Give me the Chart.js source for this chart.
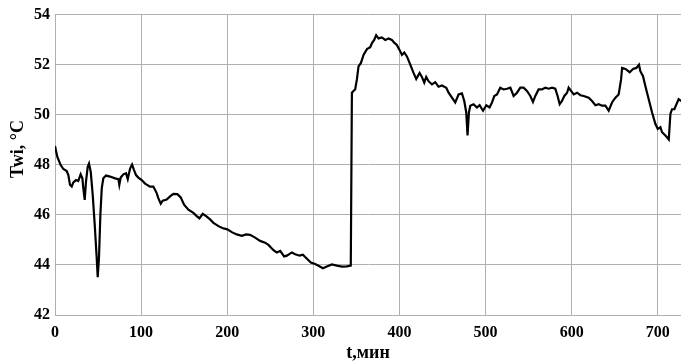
<!DOCTYPE html>
<html>
<head>
<meta charset="utf-8">
<script src="https://cdn.jsdelivr.net/npm/chart.js@4/dist/chart.umd.min.js"></script>
<style>
html,body{margin:0;padding:0;background:#fff;}
#wrap{width:681px;height:364px;position:relative;}
</style>
</head>
<body>
<div id="wrap"><canvas id="c"></canvas></div>
<script>
const tValues = [0,2.7,6.6,9.7,13.6,15.5,17.4,19.4,21.3,24.4,27,29.8,31.8,32.9,34.5,36,38,39.5,41.5,43.8,46.1,48.4,49.6,51.1,52.7,54.3,56.1,59.3,63.9,69.7,73.6,74.7,76.3,79.4,82.5,84.5,87.2,89.5,91.8,94.1,96.8,100.7,104.6,110.4,114.2,118.1,120,122.8,125.1,129.7,133.6,137.5,142.1,146,149.9,154.9,160.7,164.6,167.7,171.6,175.5,180.1,184,189.8,195.6,200.2,205.3,211.1,216.9,222,226.6,232.4,238.2,244,247.9,253.7,257.6,261.5,266.1,269.3,275.1,279,284,287.9,291.7,297.1,302.1,306,311.1,315.7,321.5,327.4,333.2,339,343.5,344.8,346.6,348.6,350.6,352.5,355.3,358.3,362.3,366.1,368.1,370.7,373,375.7,379.6,383.5,387.4,391.2,393.9,397,400.1,402.9,405.6,408.7,412.6,416.4,419.5,423.4,426.1,428.8,431.1,433.8,437.8,441.6,445.4,449.4,454.4,457.1,461,464.8,468.7,472.6,475.3,477.6,479.1,480.7,482.3,486.1,490,493.1,497.1,500.9,504.7,507.5,510.2,513.3,517.1,521,524.9,528.8,532.6,536.5,540.4,544.2,548.1,552,555.1,557.8,561.6,565.5,569.4,573.3,577.2,581,583.7,586.1,588.8,591.5,594.7,596.5,599.3,602.4,606.3,610.2,614,619.8,623.7,627.6,631.4,635.3,639.2,643,646.9,650.8,654.6,657.4,658.6,662.5,667.4,671.3,675.2,678.2,679.8,682.9,685.6,689.5,693.4,697.3,700,703.1,705,708.9,712.8,714.7,716.6,719.3,721.7,724.3,727.5];
const twiValues = [48.75,48.31,47.99,47.83,47.75,47.59,47.2,47.13,47.3,47.39,47.35,47.62,47.46,47.06,46.6,47.33,47.92,48.05,47.72,46.8,45.62,44.3,43.51,44.3,46.01,47.06,47.46,47.57,47.53,47.46,47.43,47.2,47.49,47.62,47.66,47.43,47.85,48.01,47.79,47.59,47.49,47.39,47.25,47.13,47.13,46.87,46.67,46.45,46.57,46.61,46.74,46.84,46.83,46.7,46.41,46.21,46.08,45.95,45.86,46.04,45.95,45.82,45.68,45.55,45.46,45.42,45.31,45.22,45.16,45.22,45.2,45.09,44.96,44.89,44.8,44.59,44.5,44.56,44.34,44.37,44.5,44.43,44.37,44.41,44.28,44.1,44.04,43.97,43.87,43.94,44.02,43.97,43.93,43.94,43.97,50.88,50.95,51.01,51.41,51.93,52.07,52.39,52.62,52.7,52.86,52.99,53.18,53.05,53.09,52.99,53.05,52.99,52.88,52.79,52.59,52.39,52.49,52.33,52.0,51.67,51.43,51.67,51.51,51.28,51.51,51.34,51.21,51.3,51.12,51.17,51.08,50.88,50.68,50.49,50.81,50.85,50.55,50.09,49.17,50.09,50.36,50.42,50.29,50.38,50.16,50.38,50.29,50.49,50.75,50.81,51.08,51.01,51.04,51.08,50.75,50.88,51.08,51.08,50.95,50.75,50.51,50.75,51.01,51.01,51.08,51.04,51.08,51.04,50.75,50.42,50.55,50.75,50.88,51.08,50.95,50.81,50.88,50.78,50.75,50.68,50.55,50.38,50.42,50.36,50.36,50.16,50.49,50.68,50.81,51.41,51.87,51.83,51.7,51.83,51.87,52.0,51.74,51.54,51.15,50.62,50.09,49.63,49.43,49.5,49.3,49.17,49.01,50.03,50.22,50.22,50.42,50.62,50.55];
const xTicks = [0,100,200,300,400,500,600,700];
const yTicks = [42,44,46,48,50,52,54];
const xTitle = 't,мин';
const yTitle = 'Twi, °C';

const points = tValues.map((t,i)=>({x:t,y:twiValues[i]}));
const gridColor = '#b0b0b0';
const tickFont = {family:'"Liberation Serif", "Times New Roman", serif', size:16, weight:'bold'};
const titleFont = {family:'"Liberation Serif", "Times New Roman", serif', size:18, weight:'bold'};

new Chart(document.getElementById('c'), {
  type:'line',
  data:{datasets:[{data:points,borderColor:'#000',borderWidth:2.2,pointRadius:0,tension:0,fill:false}]},
  options:{
    responsive:true,maintainAspectRatio:false,animation:false,
    layout:{padding:{top:11,right:0,left:0,bottom:0}},
    plugins:{legend:{display:false},tooltip:{enabled:false}},
    scales:{
      x:{type:'linear',min:0,max:727,
        afterBuildTicks:s=>{s.ticks=xTicks.map(v=>({value:v}));},
        afterFit:s=>{s.height=49;},
        grid:{color:gridColor,drawTicks:false,lineWidth:1},
        border:{color:gridColor},
        ticks:{font:tickFont,color:'#000',padding:8,maxRotation:0,autoSkip:false},
        title:{display:true,text:xTitle,font:titleFont,color:'#000',padding:{top:0,bottom:0}}
      },
      y:{type:'linear',min:42,max:54,
        afterBuildTicks:s=>{s.ticks=yTicks.map(v=>({value:v}));},
        afterFit:s=>{s.width=55;},
        grid:{color:gridColor,drawTicks:false,lineWidth:1},
        border:{color:gridColor},
        ticks:{font:tickFont,color:'#000',padding:5,autoSkip:false},
        title:{display:true,text:'       ' + yTitle,font:titleFont,color:'#000',padding:{top:8,bottom:0}}
      }
    }
  }
});
</script>
</body>
</html>
